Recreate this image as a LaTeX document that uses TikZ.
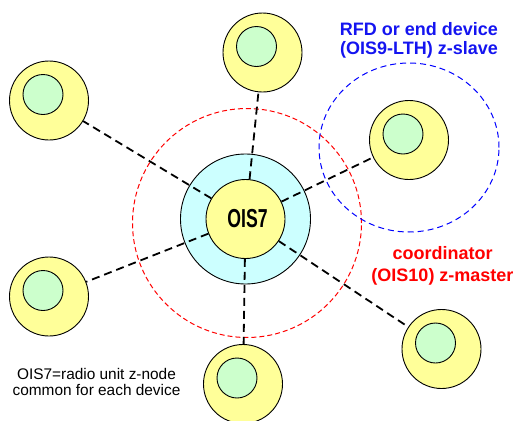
\documentclass[tikz,border=0pt]{standalone}
\usepackage{fontspec}
\setmainfont{Liberation Sans}
\usetikzlibrary{calc}
\definecolor{yel}{HTML}{FFFF99}
\definecolor{grn}{HTML}{CCFFCC}
\definecolor{cyn}{HTML}{CCFFFF}
\definecolor{bluetxt}{HTML}{1414F0}
\begin{document}
\begin{tikzpicture}[x=1pt,y=-1pt,
  satnode/.style={circle,draw=black,line width=0.9pt,fill=yel,minimum size=79pt,inner sep=0pt},
  innode/.style={circle,draw=black,line width=0.9pt,fill=grn,minimum size=40pt,inner sep=0pt},
  hubnode/.style={circle,draw=black,line width=0.9pt,fill=yel,minimum size=79pt,inner sep=0pt},
  ringnode/.style={circle,draw=black,line width=0.9pt,fill=cyn,minimum size=130pt,inner sep=0pt},
  conn/.style={draw=black,line width=1.8pt,dash pattern=on 8pt off 5pt},
  redring/.style={draw=red,line width=1pt,dash pattern=on 5pt off 3pt},
  bluering/.style={draw=blue,line width=1pt,dash pattern=on 6pt off 4pt},
  lbl/.style={align=center,inner sep=0pt}]
\useasboundingbox (0,0) rectangle (523,421);
% dashed range circles
\draw[redring] (247,223) circle[radius=114.5pt];
\draw[bluering] (409,147.5) ellipse[x radius=90pt,y radius=84.5pt];
% hub
\node[ringnode] (ring) at (245.5,219) {};
\node[hubnode] (hub) at (245.5,219) {};
\node[lbl,font=\bfseries\fontsize{26}{28}\selectfont] (hubtxt) at (247.5,218.5) {\scalebox{0.68}[1]{OIS7}};
% satellites
\foreach \n/\x/\y in {s1/49/100.5, s2/262.5/52.5, s3/409/140, s4/49/296.5, s5/243/384, s6/441.5/349}{
  \node[satnode] (\n) at (\x,\y) {};
  \node[innode] (\n in) at ($(\n)+(-6,-6)$) {};
}
% connectors
\foreach \n in {s1,s2,s3,s4,s5,s6}{
  \draw[conn] (hub) -- (\n);
}
% labels
\node[lbl,text=bluetxt,font=\bfseries\fontsize{18}{19}\selectfont] (bl) at (419,40) {RFD or end device\\(OIS9-LTH) z-slave};
\node[lbl,text=red,font=\bfseries\fontsize{18}{22}\selectfont] (rl) at (442.5,266) {coordinator\\(OIS10) z-master};
\node[lbl,font=\fontsize{15.4}{15.5}\selectfont] (kl) at (96.5,382) {OIS7=radio unit z-node\\common for each device};
\end{tikzpicture}
\end{document}
